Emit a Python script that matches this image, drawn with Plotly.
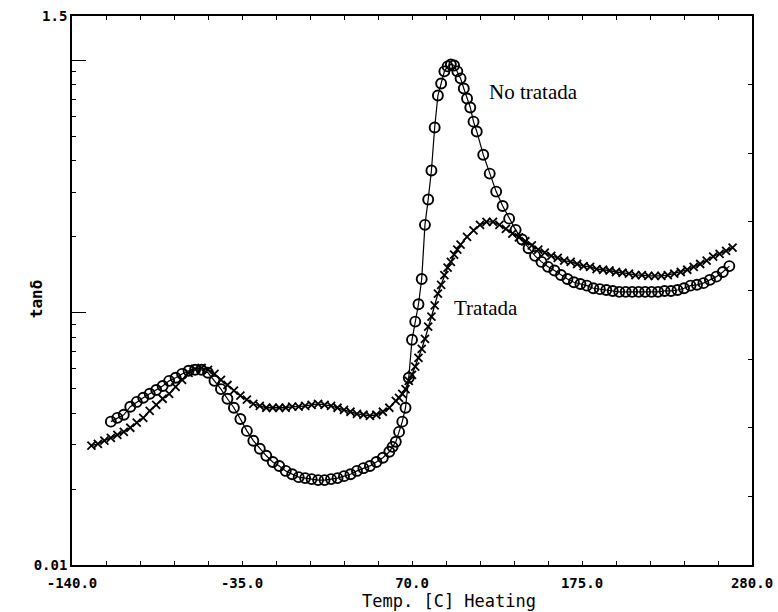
import plotly.graph_objects as go

# ---- data (temperature in C, tan delta) ----
temp_no_tratada = [-116, -112, -108, -104, -100, -96, -92, -88, -84, -80, -76, -72, -68, -64, -60,
                   -56, -52, -48, -44, -40, -36, -32, -28, -24, -20, -16, -12, -8, -4, 0,
                   4, 8, 12, 16, 20, 24, 28, 32, 36, 40, 44, 48, 52, 56, 58, 60, 62, 64, 66, 68,
                   70, 72, 74, 76, 78, 80, 82, 84, 86, 88, 90, 92, 94, 96, 98, 100, 102, 104, 106,
                   108, 110, 114, 118, 122, 126, 130, 134, 138, 142, 146, 150, 154, 158, 162, 166,
                   170, 174, 178, 182, 186, 190, 194, 198, 202, 206, 210, 214, 218, 222, 226, 230,
                   234, 238, 242, 246, 250, 254, 258, 262, 266]
tan_no_tratada = [0.0370, 0.0383, 0.0394, 0.0424, 0.0443, 0.0460, 0.0477, 0.0494, 0.0512, 0.0537,
                  0.0552, 0.0572, 0.0589, 0.0594, 0.0594, 0.0578, 0.0537, 0.0498, 0.0456, 0.0420,
                  0.0379, 0.0340, 0.0311, 0.0289, 0.0271, 0.0256, 0.0247, 0.0236, 0.0229, 0.0223,
                  0.0221, 0.0219, 0.0217, 0.0217, 0.0219, 0.0221, 0.0225, 0.0229, 0.0236, 0.0242,
                  0.0247, 0.0256, 0.0266, 0.0281, 0.0294, 0.0308, 0.0337, 0.0370, 0.0420, 0.0552,
                  0.0781, 0.0922, 0.108, 0.136, 0.223, 0.281, 0.366, 0.542, 0.726, 0.810,
                  0.905, 0.947, 0.964, 0.955, 0.905, 0.849, 0.774, 0.706, 0.651,
                  0.572, 0.523, 0.423, 0.356, 0.302, 0.265, 0.236, 0.213, 0.195, 0.180, 0.168,
                  0.159, 0.152, 0.147, 0.141, 0.136, 0.132, 0.130, 0.128, 0.125, 0.124, 0.123,
                  0.122, 0.121, 0.121, 0.121, 0.121, 0.121, 0.121, 0.121, 0.122, 0.122,
                  0.123, 0.125, 0.128, 0.129, 0.131, 0.135, 0.139, 0.145, 0.153]

temp_tratada = [-128, -124, -120, -116, -112, -108, -104, -100, -96, -92, -88, -84, -80, -76, -72,
                -68, -64, -60, -56, -52, -48, -44, -40, -36, -32, -28, -24, -20, -16, -12, -8,
                -4, 0, 4, 8, 12, 16, 20, 24, 28, 32, 36, 40, 44, 48, 52, 56, 60, 62, 64, 66, 68,
                70, 72, 74, 76, 78, 80, 82, 84, 86, 88, 90, 92, 94, 96, 98, 100, 104, 108, 112,
                116, 120, 124, 128, 132, 136, 140, 144, 148, 152, 156, 160, 164, 168, 172, 176,
                180, 184, 188, 192, 196, 200, 204, 208, 212, 216, 220, 224, 228, 232, 236, 240,
                244, 248, 252, 256, 260, 264, 268]
tan_tratada = [0.0297, 0.0302, 0.0311, 0.0319, 0.0328, 0.0337, 0.0350, 0.0367, 0.0383, 0.0408,
               0.0431, 0.0456, 0.0477, 0.0508, 0.0542, 0.0578, 0.0599, 0.0605, 0.0594, 0.0572,
               0.0542, 0.0517, 0.0491, 0.0469, 0.0452, 0.0435, 0.0427, 0.0420, 0.0420, 0.0420,
               0.0420, 0.0424, 0.0424, 0.0427, 0.0431, 0.0435, 0.0431, 0.0427, 0.0420, 0.0412,
               0.0405, 0.0397, 0.0394, 0.0390, 0.0394, 0.0405, 0.0420, 0.0447, 0.0460, 0.0477,
               0.0498, 0.0537, 0.0567, 0.0611, 0.0662, 0.0719, 0.0788, 0.0881, 0.0964, 0.107,
               0.119, 0.129, 0.141, 0.151, 0.159, 0.170, 0.178, 0.186, 0.200, 0.212, 0.223,
               0.229, 0.229, 0.223, 0.215, 0.206, 0.199, 0.192, 0.185, 0.178, 0.173, 0.168,
               0.165, 0.161, 0.159, 0.156, 0.153, 0.152, 0.149, 0.148, 0.147, 0.145, 0.144,
               0.143, 0.141, 0.141, 0.140, 0.140, 0.140, 0.141, 0.143, 0.145, 0.148, 0.152,
               0.156, 0.161, 0.167, 0.171, 0.176, 0.181]

x_tickvals = [-140, -35, 70, 175, 280]
x_ticktext = ["-140.0", "-35.0", "70.0", "175.0", "280.0"]
y_tickvals = [0.01, 0.1, 1.0, 1.5]
y_ticktext = ["0.01", "", "", "1.5"]
y_minor_vals = [0.02, 0.03, 0.04, 0.05, 0.06, 0.07, 0.08, 0.09,
                0.2, 0.3, 0.4, 0.5, 0.6, 0.7, 0.8, 0.9]
right_tickvals = [1, 2, 3, 4, 5, 6, 7]

TICKFONT = dict(family="DejaVu Sans Mono", size=14, color="black", weight="bold")

fig = go.Figure()
fig.add_trace(go.Scatter(
    x=temp_no_tratada, y=tan_no_tratada, mode="lines+markers", name="No tratada",
    line=dict(color="black", width=1.2),
    marker=dict(symbol="circle-open", size=10, color="black", line=dict(width=1.9, color="black")),
    showlegend=False))
fig.add_trace(go.Scatter(
    x=temp_tratada, y=tan_tratada, mode="lines+markers", name="Tratada",
    line=dict(color="black", width=1.3),
    marker=dict(symbol="x-thin-open", size=8, color="black", line=dict(width=1.8, color="black")),
    showlegend=False))
# empty helper trace so the right-hand tick axis is drawn
fig.add_trace(go.Scatter(x=[None], y=[None], yaxis="y2", showlegend=False, hoverinfo="skip"))

fig.update_layout(
    width=778, height=612, autosize=False,
    margin=dict(l=72, r=26, t=16, b=47, autoexpand=False),
    paper_bgcolor="white", plot_bgcolor="white",
    showlegend=False,
    xaxis=dict(
        range=[-140, 280], tickmode="array", tickvals=x_tickvals, ticktext=x_ticktext,
        ticks="inside", ticklen=4, tickwidth=1.2, tickcolor="black",
        minor=dict(dtick=21, tick0=-140, ticks="inside", ticklen=4, tickwidth=1.2, tickcolor="black"),
        showline=True, linecolor="black", linewidth=1.6, mirror="ticks",
        showgrid=False, zeroline=False, tickfont=TICKFONT, ticklabelstandoff=4,
        automargin=False),
    yaxis=dict(
        type="log", range=[-2, 0.17609], tickmode="array", tickvals=y_tickvals, ticktext=y_ticktext,
        ticks="inside", ticklen=14, tickwidth=1.4, tickcolor="black",
        minor=dict(tickmode="array", tickvals=y_minor_vals, ticks="inside", ticklen=4,
                   tickwidth=1.2, tickcolor="black"),
        showline=True, linecolor="black", linewidth=1.6, mirror=True,
        showgrid=False, zeroline=False, tickfont=TICKFONT, automargin=False),
    yaxis2=dict(
        overlaying="y", side="right", range=[0, 8], tickmode="array", tickvals=right_tickvals,
        ticks="inside", ticklen=4, tickwidth=1.2, tickcolor="black",
        showticklabels=False, showline=False, showgrid=False, zeroline=False, automargin=False),
    annotations=[
        dict(text="Temp. [C] Heating", xref="paper", yref="paper", x=0.554, y=-0.066,
             showarrow=False, xanchor="center", yanchor="middle",
             font=dict(family="DejaVu Sans Mono", size=17, color="black")),
        dict(text="tanδ", xref="paper", yref="paper", x=-0.053, y=0.486, textangle=-90,
             showarrow=False, xanchor="center", yanchor="middle",
             font=dict(family="DejaVu Sans Mono", size=16, color="black", weight="bold")),
        dict(text="No tratada", xref="paper", yref="paper", x=0.678, y=0.862,
             showarrow=False, xanchor="center", yanchor="middle",
             font=dict(family="Liberation Serif", size=21, color="black")),
        dict(text="Tratada", xref="paper", yref="paper", x=0.609, y=0.468,
             showarrow=False, xanchor="center", yanchor="middle",
             font=dict(family="Liberation Serif", size=21, color="black")),
    ],
)

fig.write_html("out.html", config={"displayModeBar": False},
               post_script="document.body.style.margin='0';document.body.style.padding='0';"
                           "document.body.style.overflow='hidden';")
